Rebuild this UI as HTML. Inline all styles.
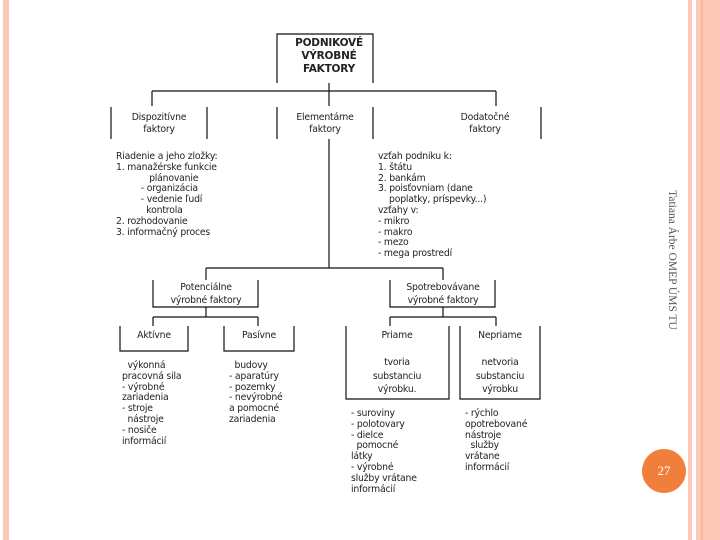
<!DOCTYPE html>
<html><head><meta charset="utf-8"><style>
body{margin:0;width:720px;height:540px;background:#fff;position:relative;overflow:hidden;font-family:"DejaVu Sans","Liberation Sans",sans-serif;color:#222}
.t{position:absolute;font-size:9.3px;line-height:10.8px;white-space:pre;letter-spacing:-0.2px}
.c{text-align:center;transform:translateX(-50%)}
svg{position:absolute;left:0;top:0}
</style></head><body>
<div style="position:absolute;left:3px;top:0;width:6px;height:540px;background:#fbc9b5"></div>
<div style="position:absolute;left:688px;top:0;width:4px;height:540px;background:#fbc9b5"></div>
<div style="position:absolute;left:696px;top:0;width:24px;height:540px;background:#fbc9b5"></div>
<div style="position:absolute;left:701px;top:0;width:2px;height:540px;background:#f6b59c"></div>
<svg width="720" height="540" stroke="#111" stroke-width="1.2" fill="none">
<path d="M277 83V34H373V83M329 83V91M152 91H496M152 91V106M329 91V106M496 91V106"/>
<path d="M111 107V139M207 107V139M277 107V139M373 107V139M541 107V139"/>
<path d="M329 139V268M206 268H443M206 268V280M443 268V280"/>
<path d="M153 280V307H258V280M390 280V307H495V280"/>
<path d="M206 307V317M153 317H258M153 317V326M258 317V326"/>
<path d="M443 307V317M390 317H496M390 317V326M496 317V326"/>
<path d="M120 326V351H188V326M224 326V351H294V326"/>
<path d="M346 326V399H449V326M460 326V399H540V326"/>
</svg>
<div class="t c" style="left:329px;top:37px;font-weight:bold;font-size:10.5px;line-height:13px">PODNIKOVÉ
VÝROBNÉ
FAKTORY</div>
<div class="t c" style="left:159px;top:112px;line-height:12px">Dispozitívne
faktory</div>
<div class="t c" style="left:325px;top:112px;line-height:12px">Elementárne
faktory</div>
<div class="t c" style="left:485px;top:112px;line-height:12px">Dodatočné
faktory</div>
<div class="t" style="left:116px;top:152px">Riadenie a jeho zložky:
1. manažérske funkcie
            plánovanie
         - organizácia
         - vedenie ľudí
           kontrola
2. rozhodovanie
3. informačný proces</div>
<div class="t" style="left:378px;top:152px">vzťah podniku k:
1. štátu
2. bankám
3. poisťovniam (dane
    poplatky, príspevky...)
vzťahy v:
- mikro
- makro
- mezo
- mega prostredí</div>
<div class="t c" style="left:206px;top:281px;line-height:13px">Potenciálne
výrobné faktory</div>
<div class="t c" style="left:443px;top:281px;line-height:13px">Spotrebovávane
výrobné faktory</div>
<div class="t c" style="left:154px;top:331px">Aktívne</div>
<div class="t c" style="left:259px;top:331px">Pasívne</div>
<div class="t c" style="left:397px;top:331px">Priame</div>
<div class="t c" style="left:500px;top:331px">Nepriame</div>
<div class="t c" style="left:397px;top:356px;line-height:13.5px">tvoria
substanciu
výrobku.</div>
<div class="t c" style="left:500px;top:356px;line-height:13.5px">netvoria
substanciu
výrobku</div>
<div class="t" style="left:122px;top:361px">  výkonná
pracovná sila
- výrobné
zariadenia
- stroje
  nástroje
- nosiče
informácií</div>
<div class="t" style="left:229px;top:361px">  budovy
- aparatúry
- pozemky
- nevýrobné
a pomocné
zariadenia</div>
<div class="t" style="left:351px;top:409px">- suroviny
- polotovary
- dielce
  pomocné
látky
- výrobné
služby vrátane
informácií</div>
<div class="t" style="left:465px;top:409px">- rýchlo
opotrebované
nástroje
  služby
vrátane
informácií</div>
<div style="position:absolute;left:672px;top:260px;transform:translate(-50%,-50%) rotate(90deg);font-family:'Liberation Serif',serif;font-size:11.5px;color:#555;white-space:nowrap">Tatiana Árbe OMEP ÚMS TU</div>
<div style="position:absolute;left:642px;top:449px;width:44px;height:44px;border-radius:50%;background:#f07f3c;color:#fff;font-family:'Liberation Serif',serif;font-size:13px;line-height:44px;text-align:center">27</div>
</body></html>
